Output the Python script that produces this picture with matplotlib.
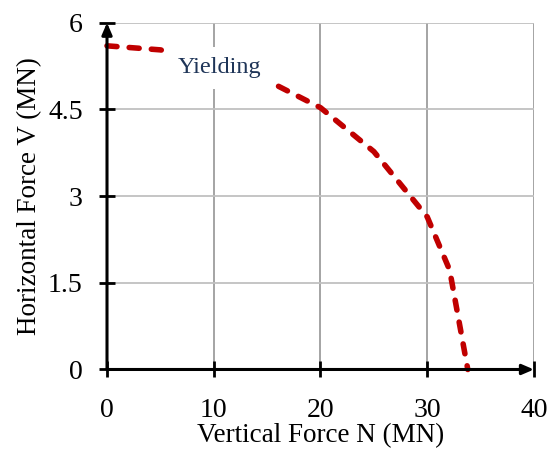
import matplotlib
matplotlib.use("Agg")
import matplotlib.pyplot as plt

plt.rcParams['font.family'] = ['Liberation Serif', 'DejaVu Serif']

# Interaction curve for yielding: vertical force N vs horizontal force V (MN)
N_vals = [0, 5, 10, 15, 20, 25, 30, 32.1, 33.8]
V_vals = [5.6, 5.53, 5.35, 5.0, 4.53, 3.77, 2.64, 1.72, 0.0]

x_ticks = [0, 10, 20, 30, 40]
y_ticks = [0, 1.5, 3, 4.5, 6]
y_tick_labels = ["0", "1.5", "3", "4.5", "6"]

curve_label = "Yielding"

fig = plt.figure(figsize=(5.53, 4.57), dpi=100)
ax = fig.add_axes([0.1935, 0.1915, 0.7721, 0.7588])

ax.set_xlim(0, 40)
ax.set_ylim(0, 6)

# grid: vertical lines darker than horizontal ones
for xv in x_ticks[1:]:
    ax.axvline(xv, color="#8c8c8c", lw=1.1, zorder=1)
for yv in y_ticks[1:]:
    ax.axhline(yv, color="#c0c0c0", lw=1.3, zorder=1)

for s in ax.spines.values():
    s.set_visible(False)

ax.plot(N_vals, V_vals, color="#c00000", lw=4.0, linestyle=(0, (1.8, 2.2)),
        dash_capstyle="round", solid_capstyle="round", zorder=3, clip_on=False)

ax.text(10.5, 5.22, curve_label, color="#1f3558", fontsize=17.5,
        ha="center", va="center", zorder=4,
        bbox=dict(boxstyle="square,pad=0.42", fc="white", ec="none"))

# axis lines with arrowheads
arrow_kw = dict(arrowstyle="-|>,head_length=0.7,head_width=0.3", color="black",
                lw=2.2, shrinkA=0, shrinkB=0)
ax.annotate("", xy=(40, 0), xytext=(0, 0), arrowprops=arrow_kw,
            annotation_clip=False, zorder=5)
ax.annotate("", xy=(0, 6), xytext=(0, 0), arrowprops=arrow_kw,
            annotation_clip=False, zorder=5)

ax.set_xticks(x_ticks)
ax.set_yticks(y_ticks)
ax.set_yticklabels(y_tick_labels)
ax.tick_params(axis="both", direction="inout", length=11, width=2,
               color="black", labelsize=20, labelcolor="black")
ax.tick_params(axis="x", pad=15)
ax.tick_params(axis="y", pad=12)

ax.set_xlabel("Vertical Force N (MN)", fontsize=19.5, labelpad=0)
ax.set_ylabel("Horizontal Force V (MN)", fontsize=19.5, labelpad=4)

fig.savefig("out.png", dpi=100)
